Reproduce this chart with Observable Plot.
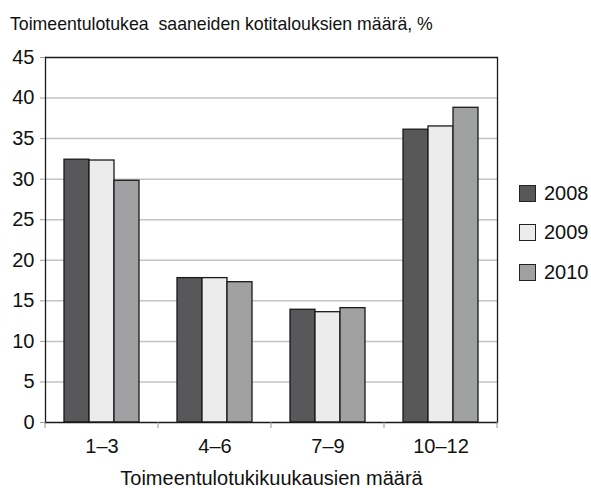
<!DOCTYPE html>
<html><head><meta charset="utf-8">
<script src="https://cdn.jsdelivr.net/npm/d3@7"></script>
<script src="https://cdn.jsdelivr.net/npm/@observablehq/plot@0.6"></script>
<style>
body{margin:0;background:#fff;font-family:"Liberation Sans",Arial,sans-serif;color:#111;}
#wrap{position:relative;width:591px;height:488px;overflow:hidden;}
#title{position:absolute;left:10px;top:15px;font-size:17.7px;line-height:18px;white-space:pre;}
#chart{position:absolute;left:0;top:45px;}
#legend{position:absolute;left:519px;top:181px;}
.row{display:flex;align-items:center;height:24px;margin-bottom:15.5px;font-size:20px;}
.sw{width:15px;height:15px;border:1px solid #222;margin-right:8px;box-sizing:content-box;}
</style></head>
<body><div id="wrap"><div id="title"></div><div id="chart"></div><div id="legend"></div></div>
<script>
const titleText = "Toimeentulotukea  saaneiden kotitalouksien määrä, %";
const xLabel = "Toimeentulotukikuukausien määrä";
const categories = ["1–3", "4–6", "7–9", "10–12"];
const years = ["2008", "2009", "2010"];
const v2008 = [32.4, 17.8, 13.9, 36.1];
const v2009 = [32.3, 17.8, 13.6, 36.5];
const v2010 = [29.8, 17.3, 14.1, 38.8];
const colors = ["#58585a", "#ebeceb", "#a0a1a3"];
const yTicks = [0, 5, 10, 15, 20, 25, 30, 35, 40, 45];
const gridValues = [5, 10, 15, 20, 25, 30, 35, 40];

const series = [v2008, v2009, v2010];
const data = categories.flatMap((c, i) => years.map((y, j) => ({category: c, year: y, value: series[j][i]})));

document.getElementById("title").textContent = titleText;

const plot = Plot.plot({
  width: 591, height: 443,
  marginLeft: 44, marginRight: 93, marginTop: 12, marginBottom: 66,
  style: {fontFamily: '"Liberation Sans", Arial, sans-serif', fontSize: "20px", color: "#111", background: "#fff", overflow: "visible"},
  fx: {domain: categories, padding: 0},
  x: {domain: years, paddingInner: 0, paddingOuter: 0.725, axis: null},
  y: {domain: [0, 45]},
  color: {domain: years, range: colors},
  marks: [
    Plot.ruleY(gridValues, {stroke: "#c4c4c4", strokeWidth: 1.5}),
    Plot.barY(data, {fx: "category", x: "year", y: "value", fill: "year", stroke: "#1a1a1a", strokeWidth: 1.3}),
    Plot.ruleY([0], {stroke: "#1a1a1a", strokeWidth: 1.3}),
    Plot.ruleY([45], {stroke: "#1a1a1a", strokeWidth: 1.3}),
    Plot.frame({anchor: "left", facetAnchor: "left", stroke: "#1a1a1a", strokeWidth: 1.3}),
    Plot.frame({anchor: "right", facetAnchor: "right", stroke: "#1a1a1a", strokeWidth: 1.3}),
    Plot.axisY({ticks: yTicks, tickSize: 5, tickPadding: 6, stroke: "#999", fill: "#111", label: null, facetAnchor: "left"}),
    Plot.axisFx({anchor: "bottom", tickSize: 0, tickPadding: 16, label: xLabel, labelAnchor: "center", labelOffset: 62, fill: "#111"})
  ]
});
document.getElementById("chart").appendChild(plot);

// category boundary ticks below the baseline
const fx = plot.scale("fx"), y = plot.scale("y");
const bounds = categories.map(c => fx.apply(c)).concat([fx.apply(categories[categories.length - 1]) + fx.bandwidth]);
const y0 = y.apply(0);
d3.select(plot).append("g").attr("stroke", "#999").selectAll("line").data(bounds).join("line")
  .attr("x1", d => d).attr("x2", d => d).attr("y1", y0).attr("y2", y0 + 6);

// legend
const legend = d3.select("#legend");
years.forEach((yr, i) => {
  const row = legend.append("div").attr("class", "row");
  row.append("div").attr("class", "sw").style("background", colors[i]);
  row.append("span").text(yr);
});
</script>
</body></html>
